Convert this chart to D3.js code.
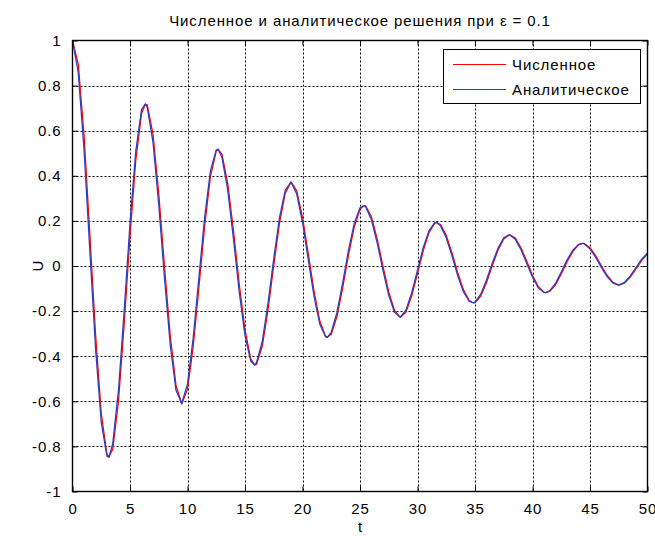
<!DOCTYPE html>
<html>
<head>
<meta charset="utf-8">
<script src="https://cdn.jsdelivr.net/npm/d3@7"></script>
<style>
  html, body { margin: 0; padding: 0; background: #fff; }
  svg { display: block; }
  text { font-family: "Liberation Sans", Arial, sans-serif; fill: #000; }
</style>
</head>
<body>
<svg id="chart" width="655" height="536"></svg>
<script>
// Time samples, t
const tValues = [0,0.5,1,1.5,2,2.5,3,3.17,3.5,4,4.5,5,5.5,6,6.33,6.5,7,7.5,8,8.5,9,9.5,10,10.5,11,11.5,12,12.5,12.67,13,13.5,14,14.5,15,15.5,15.84,16,16.5,17,17.5,18,18.5,19,19.5,20,20.5,21,21.5,22,22.17,22.5,23,23.5,24,24.5,25,25.34,25.5,26,26.5,27,27.5,28,28.5,29,29.5,30,30.5,31,31.5,31.67,32,32.5,33,33.5,34,34.5,34.84,35,35.5,36,36.5,37,37.5,38,38.5,39,39.5,40,40.5,41,41.17,41.5,42,42.5,43,43.5,44,44.34,44.5,45,45.5,46,46.5,47,47.5,48,48.5,49,49.5,50];

// Numerical solution U(t)
const numericValues = [1.000,0.895,0.581,0.146,-0.300,-0.654,-0.836,-0.846,-0.812,-0.598,-0.253,0.133,0.468,0.676,0.717,0.715,0.584,0.320,-0.004,-0.311,-0.530,-0.612,-0.546,-0.355,-0.090,0.182,0.399,0.510,0.517,0.495,0.365,0.155,-0.081,-0.284,-0.412,-0.438,-0.436,-0.356,-0.195,0.003,0.190,0.323,0.373,0.333,0.217,0.055,-0.111,-0.243,-0.311,-0.315,-0.303,-0.223,-0.095,0.049,0.174,0.252,0.267,0.266,0.217,0.119,-0.002,-0.115,-0.197,-0.228,-0.204,-0.132,-0.034,0.068,0.148,0.190,0.193,0.184,0.136,0.058,-0.030,-0.106,-0.153,-0.163,-0.163,-0.133,-0.073,0.001,0.070,0.120,0.139,0.124,0.081,0.021,-0.041,-0.091,-0.116,-0.118,-0.112,-0.084,-0.035,0.018,0.064,0.094,0.100,0.100,0.081,0.045,0.000,-0.042,-0.073,-0.085,-0.076,-0.049,-0.013,0.025,0.054];

// Analytical solution U(t)
const analyticValues = [1.000,0.857,0.519,0.076,-0.362,-0.693,-0.844,-0.848,-0.788,-0.550,-0.194,0.189,0.508,0.692,0.719,0.704,0.549,0.272,-0.054,-0.351,-0.551,-0.610,-0.523,-0.317,-0.047,0.220,0.423,0.515,0.518,0.481,0.336,0.119,-0.115,-0.309,-0.422,-0.439,-0.429,-0.335,-0.166,0.033,0.214,0.336,0.372,0.319,0.194,0.029,-0.134,-0.257,-0.314,-0.316,-0.294,-0.205,-0.073,0.070,0.189,0.258,0.268,0.262,0.204,0.101,-0.020,-0.130,-0.205,-0.227,-0.195,-0.118,-0.018,0.082,0.157,0.192,0.193,0.179,0.125,0.045,-0.043,-0.115,-0.157,-0.163,-0.160,-0.125,-0.062,0.012,0.079,0.125,0.139,0.119,0.072,0.011,-0.050,-0.096,-0.117,-0.118,-0.109,-0.077,-0.027,0.026,0.070,0.096,0.100,0.098,0.076,0.038,-0.007,-0.048,-0.076,-0.085,-0.073,-0.044,-0.007,0.030,0.058];

// Axis ticks and labels
const xTicks = [0,5,10,15,20,25,30,35,40,45,50];
const yTicks = [-1,-0.8,-0.6,-0.4,-0.2,0,0.2,0.4,0.6,0.8,1];
const yTickLabels = ["-1","-0.8","-0.6","-0.4","-0.2","0","0.2","0.4","0.6","0.8","1"];

const seriesNames = ["Численное", "Аналитическое"];
const seriesColors = ["#ff0000", "#2a3fc0"];
const titleText = "Численное и аналитическое решения при ε = 0.1";

if (tValues.length !== numericValues.length || tValues.length !== analyticValues.length) {
  throw new Error("length mismatch " + tValues.length + " " + numericValues.length + " " + analyticValues.length);
}

const svg = d3.select("#chart");
const plotLeft = 72.5, plotRight = 647.5, plotTop = 40.5, plotBottom = 491.5;

const x = d3.scaleLinear().domain([0, 50]).range([plotLeft, plotRight]);
const y = d3.scaleLinear().domain([-1, 1]).range([plotBottom, plotTop]);

const fontSize = "15px";
const spacing = "0.9px";

// grid
const grid = svg.append("g");
grid.selectAll("line.gx").data(xTicks.slice(1, -1)).join("line")
  .attr("x1", d => Math.round(x(d)) + 0.5).attr("x2", d => Math.round(x(d)) + 0.5)
  .attr("y1", plotTop).attr("y2", plotBottom)
  .attr("stroke", "#000").attr("stroke-width", 1).attr("stroke-dasharray", "2,2");
grid.selectAll("line.gy").data(yTicks.slice(1, -1)).join("line")
  .attr("y1", d => Math.round(y(d)) + 0.5).attr("y2", d => Math.round(y(d)) + 0.5)
  .attr("x1", plotLeft).attr("x2", plotRight)
  .attr("stroke", "#000").attr("stroke-width", 1).attr("stroke-dasharray", "2,2");

// curves
const line = d3.line().x(d => x(d[0])).y(d => y(d[1]));
const seriesData = [numericValues, analyticValues];
svg.append("g").selectAll("path").data(seriesData).join("path")
  .attr("d", vals => line(tValues.map((t, i) => [t, vals[i]])))
  .attr("fill", "none")
  .attr("stroke", (d, i) => seriesColors[i])
  .attr("stroke-width", 1.3)
  .attr("stroke-linejoin", "round");

// axes (ticks inside, on all four sides)
const tickLen = 5;
const axisStyle = g => {
  g.select(".domain").remove();
  g.selectAll(".tick line").attr("stroke", "#000").attr("stroke-width", 1);
  g.selectAll(".tick text").attr("font-size", fontSize).attr("letter-spacing", spacing)
    .attr("font-family", "Liberation Sans, Arial, sans-serif").attr("fill", "#000");
};

svg.append("g").attr("transform", `translate(0,${plotBottom})`)
  .call(d3.axisBottom(x).tickValues(xTicks).tickSize(-tickLen).tickPadding(12).tickFormat(d3.format("d")))
  .call(axisStyle);
svg.append("g").attr("transform", `translate(0,${plotTop})`)
  .call(d3.axisTop(x).tickValues(xTicks).tickSize(-tickLen).tickFormat(""))
  .call(axisStyle);
svg.append("g").attr("transform", `translate(${plotLeft},0)`)
  .call(d3.axisLeft(y).tickValues(yTicks).tickSize(-tickLen).tickPadding(11)
    .tickFormat((d, i) => yTickLabels[i]))
  .call(axisStyle);
svg.append("g").attr("transform", `translate(${plotRight},0)`)
  .call(d3.axisRight(y).tickValues(yTicks).tickSize(-tickLen).tickFormat(""))
  .call(axisStyle);

// box
svg.append("rect")
  .attr("x", plotLeft).attr("y", plotTop).attr("width", plotRight - plotLeft).attr("height", plotBottom - plotTop)
  .attr("fill", "none").attr("stroke", "#000").attr("stroke-width", 1.4);

// title and axis labels
svg.append("text").attr("x", (plotLeft + plotRight) / 2).attr("y", 26)
  .attr("text-anchor", "middle").attr("font-size", fontSize).attr("letter-spacing", spacing)
  .text(titleText);
svg.append("text").attr("x", (plotLeft + plotRight) / 2).attr("y", 532)
  .attr("text-anchor", "middle").attr("font-size", fontSize).text("t");
svg.append("text").attr("transform", `translate(43,${y(0)}) rotate(-90)`)
  .attr("text-anchor", "middle").attr("font-size", fontSize).text("U");

// legend
const legend = svg.append("g");
legend.append("rect").attr("x", 443.5).attr("y", 49.5).attr("width", 197).attr("height", 54)
  .attr("fill", "#fff").attr("stroke", "#000").attr("stroke-width", 1);
const legendRows = [64, 89];
seriesNames.forEach((name, i) => {
  legend.append("line").attr("x1", 453).attr("x2", 506)
    .attr("y1", legendRows[i] + 0.5).attr("y2", legendRows[i] + 0.5)
    .attr("stroke", seriesColors[i]).attr("stroke-width", 1.2);
  legend.append("text").attr("x", 512).attr("y", legendRows[i] + 5.5)
    .attr("font-size", fontSize).attr("letter-spacing", spacing).text(name);
});
</script>
</body>
</html>
